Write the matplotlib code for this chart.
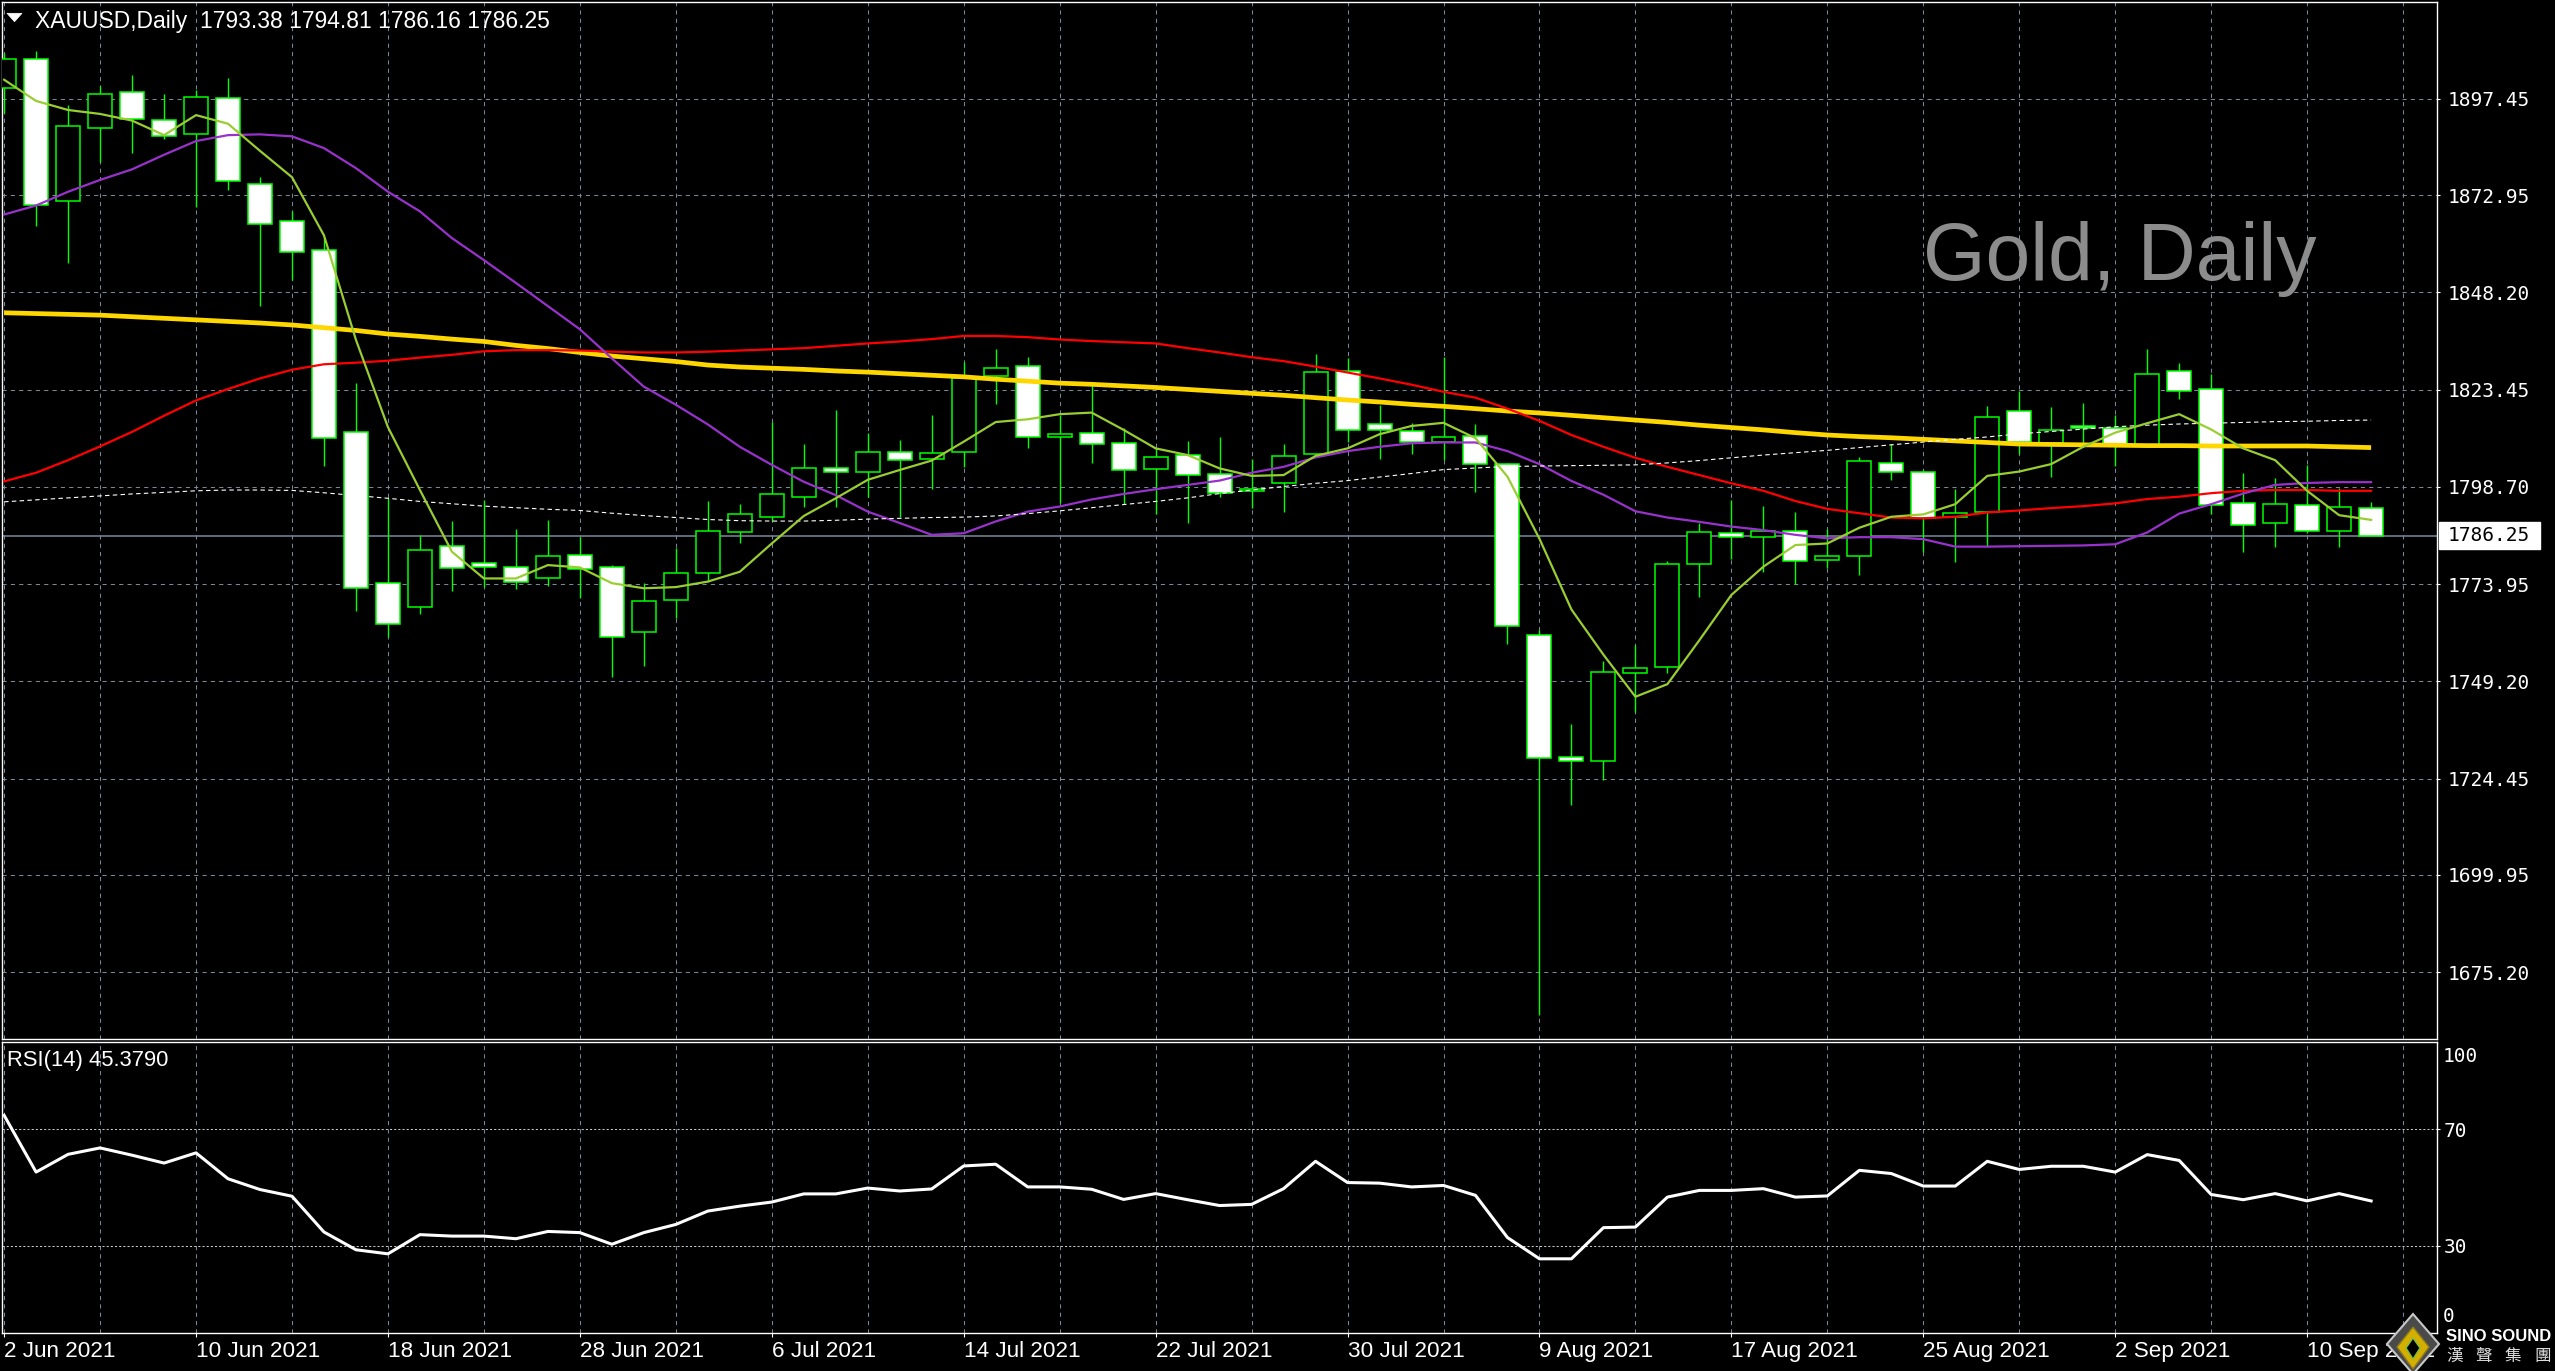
import matplotlib
matplotlib.use('Agg')
import matplotlib.pyplot as plt
import matplotlib.transforms as mtransforms
from matplotlib.patches import Rectangle, Polygon
import numpy as np
import pandas as pd

W, H = 2555, 1371

# ---------------- data ----------------
dates = pd.bdate_range('2021-06-02', '2021-09-14')
date_labels = [f"{d.day} {d.strftime('%b %Y')}" for d in dates]

opens = [1900.3, 1907.7, 1871.5, 1890.0, 1899.3, 1892.0, 1888.6, 1897.6, 1875.7, 1866.4,
         1859.0, 1812.7, 1774.2, 1768.1, 1783.6, 1779.3, 1778.2, 1775.6, 1781.3, 1778.2,
         1761.7, 1769.8, 1776.7, 1787.1, 1791.1, 1796.0, 1803.4, 1802.6, 1807.5, 1805.9,
         1807.7, 1827.0, 1829.4, 1811.3, 1812.5, 1809.9, 1803.3, 1806.7, 1802.1, 1797.7,
         1799.6, 1807.0, 1828.3, 1814.8, 1812.8, 1810.1, 1811.7, 1804.6, 1761.1, 1730.0,
         1729.0, 1751.3, 1752.8, 1779.2, 1787.0, 1785.9, 1787.4, 1780.0, 1781.2, 1804.9,
         1802.4, 1790.95, 1792.2, 1817.9, 1809.8, 1814.1, 1813.6, 1809.2, 1828.3, 1823.5,
         1794.5, 1789.6, 1794.0, 1787.6, 1793.38]
highs = [1909.0, 1909.5, 1895.9, 1900.7, 1903.5, 1898.7, 1899.7, 1902.8, 1877.6, 1869.0,
         1862.2, 1825.2, 1795.9, 1786.5, 1790.0, 1795.3, 1788.0, 1790.3, 1786.0, 1778.7,
         1774.3, 1783.1, 1795.2, 1794.4, 1815.1, 1809.6, 1818.2, 1812.3, 1810.6, 1817.0,
         1830.4, 1833.8, 1831.8, 1817.0, 1824.6, 1813.6, 1808.5, 1810.4, 1811.4, 1805.8,
         1809.6, 1832.5, 1831.5, 1819.5, 1814.9, 1831.8, 1814.7, 1804.9, 1762.2, 1738.4,
         1754.3, 1758.5, 1779.8, 1789.4, 1795.4, 1793.8, 1792.3, 1788.1, 1806.3, 1809.6,
         1803.0, 1798.2, 1819.3, 1823.1, 1819.0, 1820.0, 1817.0, 1833.8, 1830.2, 1827.3,
         1802.2, 1800.9, 1804.3, 1798.3, 1794.81]
lows = [1893.9, 1865.0, 1855.6, 1881.4, 1883.7, 1887.2, 1869.8, 1874.2, 1844.7, 1851.4,
        1803.9, 1767.1, 1760.5, 1766.3, 1772.3, 1773.1, 1772.6, 1773.6, 1770.3, 1750.4,
        1753.1, 1765.4, 1774.4, 1784.3, 1789.9, 1793.7, 1793.7, 1796.2, 1791.1, 1798.2,
        1803.8, 1819.8, 1808.7, 1794.5, 1804.8, 1794.4, 1791.7, 1789.6, 1796.2, 1793.3,
        1792.4, 1806.6, 1810.0, 1805.7, 1807.0, 1805.6, 1797.5, 1758.6, 1664.3, 1717.8,
        1724.0, 1741.3, 1751.4, 1770.8, 1780.3, 1777.1, 1774.0, 1778.0, 1776.3, 1800.5,
        1782.2, 1779.7, 1783.5, 1807.1, 1801.3, 1808.9, 1804.0, 1809.0, 1821.1, 1791.7,
        1782.2, 1783.5, 1786.9, 1783.5, 1786.16]
closes = [1907.7, 1870.5, 1890.6, 1898.6, 1892.4, 1888.1, 1897.9, 1876.6, 1865.7, 1858.5,
          1811.1, 1773.0, 1763.7, 1782.6, 1778.0, 1778.2, 1774.4, 1781.1, 1777.7, 1760.6,
          1769.7, 1776.8, 1787.4, 1791.7, 1796.8, 1803.4, 1802.4, 1807.5, 1805.5, 1807.2,
          1826.3, 1828.9, 1811.3, 1812.1, 1809.5, 1802.9, 1806.2, 1801.6, 1797.1, 1798.1,
          1806.6, 1827.9, 1813.1, 1813.1, 1810.1, 1811.5, 1804.4, 1763.3, 1729.6, 1729.0,
          1751.6, 1752.7, 1779.0, 1787.1, 1785.9, 1787.6, 1779.75, 1781.0, 1805.2, 1802.4,
          1790.7, 1791.95, 1816.4, 1810.0, 1813.3, 1813.7, 1809.2, 1827.3, 1823.0, 1794.0,
          1788.9, 1794.3, 1787.6, 1793.5, 1786.25]

ma_fast = [1902.3, 1896.9, 1894.6, 1893.6, 1891.9, 1888.2, 1893.3, 1891.1, 1884.2, 1877.5,
           1862.7, 1836.1, 1813.9, 1797.9, 1782.2, 1775.4, 1775.4, 1778.8, 1778.2, 1774.2,
           1772.9, 1773.2, 1774.6, 1777.1, 1784.3, 1791.3, 1795.8, 1800.5, 1803.0, 1805.4,
           1810.2, 1815.2, 1815.9, 1817.2, 1817.6, 1813.2, 1808.5, 1806.8, 1803.4, 1801.5,
           1801.7, 1806.6, 1808.5, 1812.1, 1814.2, 1815.0, 1811.1, 1801.3, 1785.5, 1767.5,
           1756.0, 1745.3, 1748.5, 1759.7, 1771.2, 1778.4, 1783.9, 1784.3, 1788.3, 1791.1,
           1791.7, 1794.3, 1801.5, 1802.6, 1804.5, 1808.9, 1812.5, 1814.9, 1817.2, 1813.3,
           1808.5, 1805.5, 1797.7, 1791.5, 1790.3]
ma_purple = [1868.0, 1870.3, 1873.8, 1876.8, 1879.5, 1883.2, 1886.7, 1888.2, 1888.4, 1887.9,
             1884.9, 1879.8, 1873.8, 1868.8, 1862.0, 1856.4, 1850.6, 1844.7, 1838.8, 1831.4,
             1824.2, 1819.6, 1814.6, 1808.9, 1804.3, 1800.0, 1796.6, 1792.4, 1789.5, 1786.5,
             1786.9, 1789.9, 1792.4, 1793.7, 1795.5, 1796.9, 1798.1, 1799.2, 1800.3, 1802.3,
             1803.8, 1806.2, 1807.8, 1808.9, 1809.8, 1810.0, 1810.0, 1807.8, 1804.5, 1800.2,
             1796.7, 1792.5, 1790.9, 1789.8, 1788.6, 1787.7, 1786.5, 1785.6, 1785.9, 1785.9,
             1785.4, 1783.5, 1783.5, 1783.6, 1783.7, 1783.8, 1784.1, 1787.1, 1791.9, 1794.3,
             1797.0, 1799.2, 1799.7, 1799.9, 1799.9]
ma_red = [1800.1, 1802.3, 1805.5, 1809.0, 1812.7, 1816.8, 1820.7, 1823.6, 1826.3, 1828.5,
          1829.9, 1830.3, 1830.8, 1831.6, 1832.3, 1833.2, 1833.5, 1833.5, 1833.4, 1833.1,
          1832.9, 1832.9, 1833.1, 1833.4, 1833.7, 1834.0, 1834.6, 1835.2, 1835.7, 1836.3,
          1837.1, 1837.1, 1836.8, 1836.2, 1835.8, 1835.5, 1835.2, 1834.0, 1832.9, 1831.7,
          1830.7, 1829.3, 1827.8, 1826.3, 1824.7, 1822.9, 1821.4, 1818.6, 1815.5, 1811.9,
          1808.9, 1806.1, 1803.8, 1801.7, 1799.6, 1797.7, 1795.1, 1793.1, 1792.0, 1790.9,
          1790.7, 1791.1, 1792.2, 1792.7, 1793.3, 1793.8, 1794.5, 1795.6, 1796.2, 1797.1,
          1797.7, 1797.9, 1797.9, 1797.7, 1797.7]
ma_gold = [1843.0, 1842.8, 1842.6, 1842.4, 1842.0, 1841.6, 1841.2, 1840.8, 1840.4, 1839.9,
           1839.2, 1838.5, 1837.6, 1837.0, 1836.3, 1835.7, 1834.7, 1833.9, 1832.9, 1832.0,
           1831.3, 1830.6, 1829.7, 1829.2, 1828.9, 1828.6, 1828.2, 1827.9, 1827.5, 1827.1,
           1826.7, 1826.1, 1825.6, 1825.1, 1824.8, 1824.4, 1824.0, 1823.5, 1823.0, 1822.5,
           1822.0, 1821.4, 1820.8, 1820.3, 1819.7, 1819.2, 1818.6, 1818.0, 1817.5, 1816.9,
           1816.3, 1815.7, 1815.1, 1814.4, 1813.8, 1813.2, 1812.5, 1811.9, 1811.5, 1811.2,
           1810.8, 1810.4, 1810.0, 1809.6, 1809.5, 1809.4, 1809.3, 1809.2, 1809.2, 1809.1,
           1809.1, 1809.1, 1809.1, 1808.9, 1808.7]
ma_dotted = [1794.9, 1795.4, 1795.9, 1796.4, 1796.9, 1797.3, 1797.7, 1797.9, 1797.9, 1797.8,
             1797.2, 1796.5, 1795.8, 1795.0, 1794.4, 1793.8, 1793.4, 1793.0, 1792.7, 1792.0,
             1791.4, 1790.9, 1790.4, 1790.1, 1790.0, 1790.0, 1790.2, 1790.5, 1790.7, 1790.9,
             1791.0, 1791.3, 1791.9, 1792.6, 1793.4, 1794.2, 1795.0, 1795.9, 1797.0, 1797.9,
             1798.8, 1799.6, 1800.3, 1801.2, 1802.1, 1803.1, 1803.5, 1803.9, 1804.0, 1804.1,
             1804.2, 1804.3, 1804.8, 1805.4, 1806.1, 1806.8, 1807.4, 1808.0, 1808.7, 1809.4,
             1810.1, 1810.8, 1811.4, 1812.2, 1812.8, 1813.4, 1814.0, 1814.4, 1814.7, 1814.9,
             1815.1, 1815.3, 1815.4, 1815.6, 1815.7]
rsi_values = [74.8, 55.3, 61.4, 63.6, 61.1, 58.4, 61.9, 53.0, 49.3, 47.0,
              34.7, 28.6, 27.2, 33.8, 33.3, 33.3, 32.4, 34.9, 34.5, 30.5,
              34.5, 37.3, 41.9, 43.6, 45.0, 47.8, 47.8, 49.8, 48.8, 49.5,
              57.4, 58.0, 50.2, 50.2, 49.4, 45.9, 47.9, 45.8, 43.8, 44.2,
              49.6, 59.0, 51.7, 51.5, 50.2, 50.7, 47.3, 32.8, 25.5, 25.5,
              36.2, 36.4, 46.7, 49.0, 49.0, 49.6, 46.7, 47.1, 55.9, 54.8,
              50.5, 50.5, 59.0, 56.2, 57.3, 57.3, 55.3, 61.3, 59.3, 47.6,
              45.8, 47.9, 45.4, 47.9, 45.379]

price_ticks = [1897.45, 1872.95, 1848.20, 1823.45, 1798.70, 1773.95, 1749.20, 1724.45, 1699.95, 1675.20]
price_tick_labels = ['1897.45', '1872.95', '1848.20', '1823.45', '1798.70',
                     '1773.95', '1749.20', '1724.45', '1699.95', '1675.20']
rsi_ticks = [70, 30]
rsi_edge_labels = [100, 0]
rsi_levels = [70, 30]
last_price = 1786.25
title_text = 'XAUUSD,Daily  1793.38 1794.81 1786.16 1786.25'
rsi_text = 'RSI(14) 45.3790'
watermark = 'Gold, Daily'

# ---------------- styling ----------------
BG = 'black'
GRID = '#778899'
LIME = '#00FF00'
SANS = ['Liberation Sans', 'DejaVu Sans']
MONO = ['DejaVu Sans Mono']

n = len(closes)
x = np.arange(n)
o = np.array(opens); c = np.array(closes)
hi = np.array(highs); lo = np.array(lows)

fig = plt.figure(figsize=(W / 100, H / 100), dpi=100, facecolor=BG)

def fx(px):
    return px / W

def fy(py):
    return 1 - py / H

ax = fig.add_axes([fx(2), fy(1039), 2435 / W, 1037 / H], facecolor=BG)
rax = fig.add_axes([fx(2), fy(1333), 2435 / W, 291 / H], facecolor=BG)

xlim = (-0.066, 76.06)
ax.set_xlim(*xlim)
ax.set_ylim(1658.21, 1922.08)
rax.set_xlim(*xlim)
rax.set_ylim(0, 100)

for a in (ax, rax):
    for s in a.spines.values():
        s.set_color('white')
        s.set_linewidth(1.0)

# grid
for b in range(0, n + 2, 3):
    ax.axvline(b, color=GRID, lw=0.75, ls=(0, (4, 4)), zorder=1)
    rax.axvline(b, color=GRID, lw=0.75, ls=(0, (4, 4)), zorder=1)
for t in price_ticks:
    ax.axhline(t, color=GRID, lw=0.75, ls=(0, (4, 4)), zorder=1)

# current price line
ax.axhline(last_price, color=GRID, lw=1.1, zorder=1.5)

# candles
up = c >= o
ax.vlines(x, lo, hi, color=LIME, lw=1.0, zorder=2)
ax.bar(x, np.maximum(np.abs(c - o), 0.05), bottom=np.minimum(o, c), width=0.75,
       color=np.where(up, 'black', 'white'), edgecolor=LIME, linewidth=1.1, zorder=3)

# moving averages
ax.plot(x, ma_gold, color='#FFD700', lw=3.4, zorder=4, solid_capstyle='butt')
ax.plot(x, ma_red, color='#FF0000', lw=1.6, zorder=4.1)
ax.plot(x, ma_purple, color='#9932CC', lw=1.6, zorder=4.2)
ax.plot(x, ma_dotted, color='white', lw=0.8, ls=(0, (4, 3)), zorder=4.3)
ax.plot(x, ma_fast, color='#9ACD32', lw=1.6, zorder=4.4)

# y axis (price)
ax.set_xticks([])
ax.yaxis.tick_right()
ax.set_yticks(price_ticks)
ax.set_yticklabels(price_tick_labels)
ax.tick_params(axis='y', colors='white', length=2.5, width=0.8, pad=5.5,
               labelsize=14)
for lab in ax.get_yticklabels():
    lab.set_fontfamily(MONO)

# last price box
bt = mtransforms.blended_transform_factory(ax.transAxes, ax.transData)
box_h = 27 / 3.93
ax.add_patch(Rectangle((1 + 2 / 2435, last_price - box_h / 2), 101 / 2435, box_h,
                       transform=bt, facecolor='white', edgecolor='white',
                       clip_on=False, zorder=10))
ax.text(1 + 10.5 / 2435, last_price, f'{last_price:.2f}', transform=bt, ha='left',
        va='center', color='black', fontsize=14, family=MONO, clip_on=False, zorder=11)

# RSI panel
rax.plot(x, rsi_values, color='white', lw=2.2, zorder=4)
for lv in rsi_levels:
    rax.axhline(lv, color='#C8C8C8', lw=0.75, ls=(0, (2, 2)), zorder=1)
rax.yaxis.tick_right()
rax.set_yticks(rsi_ticks)
rax.set_yticklabels([str(v) for v in rsi_ticks])
rax.tick_params(axis='y', colors='white', length=2.5, width=0.8, pad=2.5, labelsize=14)
for lab in rax.get_yticklabels():
    lab.set_fontfamily(MONO)
rbt = mtransforms.blended_transform_factory(rax.transAxes, rax.transData)
for v, dy in zip(rsi_edge_labels, (-14, 17)):
    rax.annotate(str(v), xy=(1, v), xycoords=rbt, xytext=(6, dy),
                 textcoords='offset pixels', ha='left', va='center', color='white',
                 fontsize=14, family=MONO, annotation_clip=False)

label_idx = list(range(0, n, 6))
rax.set_xticks(label_idx)
rax.set_xticklabels([date_labels[i] for i in label_idx])
rax.tick_params(axis='x', colors='white', length=3, width=0.8, pad=3, labelsize=16.2)
for lab in rax.get_xticklabels():
    lab.set_ha('left')
    lab.set_fontfamily(SANS)

# texts
fig.add_artist(Polygon([(fx(7), fy(13.3)), (fx(22), fy(13.3)), (fx(14.5), fy(21.7))],
                       closed=True, transform=fig.transFigure, facecolor='white',
                       edgecolor='white', lw=0.5))
fig.text(fx(35), fy(28.3), title_text, fontsize=16.5, family=SANS, color='white',
         ha='left', va='baseline')
fig.text(fx(6.6), fy(1066), rsi_text, fontsize=15.8, family=SANS, color='white',
         ha='left', va='baseline')
fig.text(fx(1923), fy(280), watermark, fontsize=58, family=SANS, color='#8C8C8C',
         ha='left', va='baseline')

# logo (decorative)
fig.add_artist(Polygon([(fx(2413), fy(1314)), (fx(2439), fy(1344)), (fx(2413), fy(1374)),
                        (fx(2387), fy(1344))], closed=True, transform=fig.transFigure,
                       facecolor='#4a4a4a', edgecolor='#c8c8c8', lw=1.5, zorder=20))
fig.add_artist(Polygon([(fx(2413), fy(1327)), (fx(2429), fy(1347)), (fx(2413), fy(1369)),
                        (fx(2397), fy(1347))], closed=True, transform=fig.transFigure,
                       facecolor='#D4AF00', edgecolor='#8a7a20', lw=1, zorder=21))
fig.add_artist(Polygon([(fx(2413), fy(1338)), (fx(2420), fy(1348)), (fx(2413), fy(1359)),
                        (fx(2406), fy(1348))], closed=True, transform=fig.transFigure,
                       facecolor='black', edgecolor='#7FBF3F', lw=1, zorder=22))
fig.text(fx(2446), fy(1341), 'SINO SOUND', fontsize=12, weight='bold', family=SANS,
         color='white', ha='left', va='baseline', zorder=23)
for k, ch in enumerate('漢聲集團'):
    fig.text(fx(2446 + 29.5 * k), fy(1361), ch, fontsize=12,
             family=['Noto Sans CJK TC', 'DejaVu Sans'], color='#dddddd',
             ha='left', va='baseline', zorder=23)

fig.savefig('out.png', dpi=100, facecolor=BG)
